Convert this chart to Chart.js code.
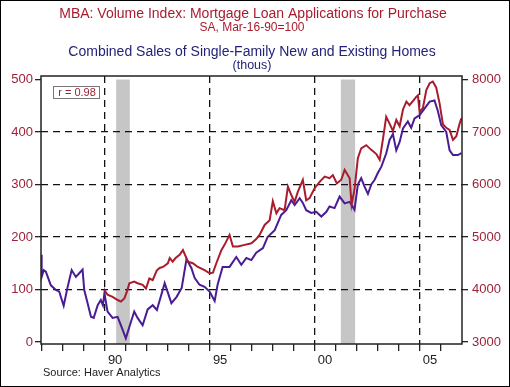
<!DOCTYPE html>
<html>
<head>
<meta charset="utf-8">
<script src="https://cdn.jsdelivr.net/npm/chart.js@4.4.1/dist/chart.umd.min.js"></script>
<style>
  body { margin: 0; background: #fff; }
  canvas { display: block; }
</style>
</head>
<body>
<canvas id="chart" width="510" height="387"></canvas>
<script>
// MBA purchase index (SA, Mar-16-90=100), left axis
var mbaYears = [1989.99, 1990.14, 1990.38, 1990.62, 1990.78, 1990.94, 1991.06, 1991.18, 1991.41, 1991.57,
  1991.81, 1991.97, 1992.13, 1992.29, 1992.48, 1992.62, 1992.78, 1993.01, 1993.1, 1993.24,
  1993.38, 1993.57, 1993.73, 1993.97, 1994.2, 1994.44, 1994.76, 1995.0, 1995.16, 1995.32,
  1995.56, 1995.71, 1995.95, 1996.11, 1996.35, 1996.67, 1996.99, 1997.22, 1997.38, 1997.62,
  1997.86, 1998.01, 1998.18, 1998.33, 1998.57, 1998.73, 1998.89, 1999.05, 1999.2, 1999.44,
  1999.6, 1999.76, 2000.0, 2000.24, 2000.48, 2000.71, 2000.87, 2001.06, 2001.27, 2001.43,
  2001.67, 2001.76, 2001.9, 2002.06, 2002.22, 2002.46, 2002.7, 2002.94, 2003.1, 2003.25,
  2003.41, 2003.57, 2003.73, 2003.89, 2004.05, 2004.21, 2004.37, 2004.52, 2004.68, 2004.84,
  2004.92, 2005.0, 2005.16, 2005.32, 2005.48, 2005.63, 2005.79, 2005.95, 2006.11, 2006.27,
  2006.43, 2006.59, 2006.75, 2006.9, 2006.99];
var mbaValues = [99, 90, 86, 80, 77, 83, 96, 112, 115, 112,
  109, 102, 121, 118, 136, 141, 143, 150, 160, 153,
  160, 166, 175, 153, 150, 143, 137, 131, 132, 150,
  175, 185, 204, 182, 182, 185, 188, 196, 204, 223,
  232, 268, 245, 255, 251, 296, 280, 267, 286, 309,
  270, 274, 293, 305, 315, 312, 318, 302, 309, 328,
  312, 262, 290, 350, 369, 375, 366, 358, 347, 385,
  429, 416, 402, 423, 411, 443, 458, 451, 459, 467,
  470, 438, 446, 480, 493, 496, 485, 455, 415, 408,
  404, 385, 392, 415, 426];

// Combined new + existing single-family home sales (thous), right axis
var salesYears = [1986.97, 1987.0, 1987.1, 1987.2, 1987.44, 1987.68, 1987.84, 1988.05, 1988.24, 1988.43,
  1988.63, 1988.79, 1988.95, 1989.03, 1989.19, 1989.35, 1989.48, 1989.67, 1989.82, 1989.92,
  1989.99, 1990.14, 1990.38, 1990.62, 1990.86, 1991.01, 1991.18, 1991.41, 1991.57, 1991.81,
  1992.05, 1992.29, 1992.49, 1992.86, 1993.18, 1993.43, 1993.67, 1993.9, 1994.13, 1994.29,
  1994.52, 1994.76, 1995.0, 1995.24, 1995.38, 1995.62, 1995.95, 1996.27, 1996.51, 1996.75,
  1996.99, 1997.22, 1997.54, 1997.76, 1998.1, 1998.41, 1998.65, 1998.89, 1999.05, 1999.29,
  1999.44, 1999.6, 1999.84, 2000.08, 2000.32, 2000.56, 2000.71, 2000.95, 2001.19, 2001.43,
  2001.67, 2001.9, 2002.06, 2002.22, 2002.38, 2002.54, 2002.7, 2002.86, 2003.01, 2003.18,
  2003.41, 2003.57, 2003.73, 2003.89, 2004.05, 2004.21, 2004.44, 2004.6, 2004.76, 2005.0,
  2005.24, 2005.48, 2005.71, 2005.87, 2006.03, 2006.27, 2006.43, 2006.59, 2006.82, 2006.99];
var salesValues = [4660, 4240, 4370, 4340, 4080, 3990, 3960, 3690, 4050, 4370,
  4240, 4310, 4380, 3990, 3740, 3480, 3460, 3700, 3800, 3700,
  3930, 3580, 3460, 3480, 3230, 3070, 3290, 3580, 3460, 3320,
  3620, 3700, 3610, 4120, 3740, 3860, 4030, 4580, 4410, 4220,
  4090, 4050, 3960, 3780, 4090, 4430, 4430, 4620, 4470, 4600,
  4560, 4700, 4790, 5000, 5130, 5420, 5510, 5700, 5610, 5740,
  5650, 5510, 5460, 5480, 5390, 5480, 5580, 5550, 5770, 5640,
  5670, 5520, 6000, 6120, 5960, 5820, 6000, 6090, 6220, 6340,
  6590, 6850, 6960, 6650, 6810, 7070, 7200, 7080, 7260, 7320,
  7450, 7580, 7600, 7400, 7130, 7000, 6650, 6560, 6560, 6600];

var leftTicks = [0, 100, 200, 300, 400, 500];
var rightTicks = [3000, 4000, 5000, 6000, 7000, 8000];
var yearTicks = [1987, 1988, 1989, 1990, 1991, 1992, 1993, 1994, 1995, 1996,
  1997, 1998, 1999, 2000, 2001, 2002, 2003, 2004, 2005, 2006];
var yearLabels = { 1990.5: '90', 1995.5: '95', 2000.5: '00', 2005.5: '05' };
var recessions = [[1990.55, 1991.2], [2001.25, 2001.93]];

var RED = '#a81c2e';
var PURPLE = '#4a1c94';
var NAVY = '#23237a';
var LABEL = '#9c2238';

function points(xs, ys) {
  return xs.map(function(x, i) { return { x: x, y: ys[i] }; });
}

var haverDecor = {
  id: 'haverDecor',
  beforeDraw: function(chart) {
    var ctx = chart.ctx, a = chart.chartArea;
    var x = chart.scales.x, y = chart.scales.y;
    ctx.save();
    ctx.fillStyle = '#fff';
    ctx.fillRect(0, 0, chart.width, chart.height);
    ctx.fillStyle = '#c6c6c6';
    recessions.forEach(function(r) {
      var x0 = x.getPixelForValue(r[0]), x1 = x.getPixelForValue(r[1]);
      var top = y.getPixelForValue(500);
      ctx.fillRect(x0, top, x1 - x0, a.bottom - top);
    });
    ctx.restore();
  },
  afterDraw: function(chart) {
    var ctx = chart.ctx, a = chart.chartArea;
    ctx.save();
    ctx.strokeStyle = '#222';
    ctx.lineWidth = 1.5;
    ctx.strokeRect(a.left, a.top, a.right - a.left, a.bottom - a.top);

    ctx.textAlign = 'center';
    ctx.textBaseline = 'middle';
    ctx.fillStyle = RED;
    ctx.font = '14px "Liberation Sans", Arial, sans-serif';
    ctx.fillText('MBA: Volume Index: Mortgage Loan Applications for Purchase', 253, 14);
    ctx.font = '12px "Liberation Sans", Arial, sans-serif';
    ctx.fillText('SA, Mar-16-90=100', 252, 28);
    ctx.fillStyle = NAVY;
    ctx.font = '14px "Liberation Sans", Arial, sans-serif';
    ctx.fillText('Combined Sales of Single-Family New and Existing Homes', 252, 52);
    ctx.font = '12.5px "Liberation Sans", Arial, sans-serif';
    ctx.fillText('(thous)', 252, 66);

    // correlation box
    ctx.fillStyle = '#fff';
    ctx.fillRect(54, 86, 46, 12);
    ctx.strokeStyle = '#777';
    ctx.lineWidth = 1;
    ctx.strokeRect(53.5, 86.5, 46, 12);
    ctx.fillStyle = LABEL;
    ctx.font = '11px "Liberation Sans", Arial, sans-serif';
    ctx.fillText('r = 0.98', 77, 93);

    ctx.textAlign = 'left';
    ctx.fillStyle = '#222';
    ctx.fillText('Source: Haver Analytics', 43, 373);

    ctx.strokeStyle = '#000';
    ctx.lineWidth = 1;
    ctx.strokeRect(0.5, 0.5, chart.width - 1, chart.height - 1);
    ctx.restore();
  }
};

var tickFont = { family: '"Liberation Sans", Arial, sans-serif', size: 13 };

var chart = new Chart('chart', {
  type: 'line',
  data: {
    datasets: [
      {
        label: 'MBA Purchase Index',
        data: points(mbaYears, mbaValues),
        yAxisID: 'y',
        borderColor: RED,
        borderWidth: 2,
        pointRadius: 0,
        fill: false
      },
      {
        label: 'Home Sales',
        data: points(salesYears, salesValues),
        yAxisID: 'y2',
        borderColor: PURPLE,
        borderWidth: 2,
        pointRadius: 0,
        fill: false
      }
    ]
  },
  options: {
    responsive: false,
    animation: false,
    layout: { padding: { top: 76, left: 0, right: 0, bottom: 0 } },
    plugins: { legend: { display: false }, tooltip: { enabled: false } },
    scales: {
      x: {
        type: 'linear',
        min: 1986.97,
        max: 2007.02,
        afterFit: function(s) { s.height = 43; },
        afterBuildTicks: function(s) {
          var t = yearTicks.map(function(v) { return { value: v }; });
          Object.keys(yearLabels).forEach(function(k) { t.push({ value: +k }); });
          t.sort(function(p, q) { return p.value - q.value; });
          s.ticks = t;
        },
        border: { display: false, dash: [7, 5] },
        grid: {
          color: function(c) {
            var v = c.tick && c.tick.value;
            return (v % 5 === 0) ? '#111' : 'rgba(0,0,0,0)';
          },
          tickColor: function(c) {
            var v = c.tick && c.tick.value;
            return (v % 1 === 0) ? '#222' : 'rgba(0,0,0,0)';
          },
          lineWidth: 1.3,
          tickLength: 7,
          tickBorderDash: []
        },
        ticks: {
          autoSkip: false,
          maxRotation: 0,
          padding: 2,
          color: '#222',
          font: tickFont,
          callback: function(v) { return yearLabels[v] || ''; }
        }
      },
      y: {
        position: 'left',
        min: -3.8,
        max: 506.7,
        afterFit: function(s) { s.width = 41; },
        afterBuildTicks: function(s) {
          s.ticks = leftTicks.map(function(v) { return { value: v }; });
        },
        border: { display: false, dash: [7, 5] },
        grid: {
          color: function(c) {
            var v = c.tick && c.tick.value;
            return (v > 0 && v < 500) ? '#111' : 'rgba(0,0,0,0)';
          },
          tickColor: '#222',
          lineWidth: 1.3,
          tickLength: 6,
          tickBorderDash: []
        },
        ticks: {
          color: LABEL,
          font: tickFont,
          padding: 2,
          callback: function(v) { return String(v); }
        }
      },
      y2: {
        position: 'right',
        min: 2962,
        max: 8067,
        afterFit: function(s) { s.width = 48; },
        afterBuildTicks: function(s) {
          s.ticks = rightTicks.map(function(v) { return { value: v }; });
        },
        border: { display: false },
        grid: {
          drawOnChartArea: false,
          tickColor: '#222',
          lineWidth: 1.3,
          tickLength: 6
        },
        ticks: {
          color: LABEL,
          font: tickFont,
          padding: 4,
          callback: function(v) { return String(v); }
        }
      }
    }
  },
  plugins: [haverDecor]
});
</script>
</body>
</html>
